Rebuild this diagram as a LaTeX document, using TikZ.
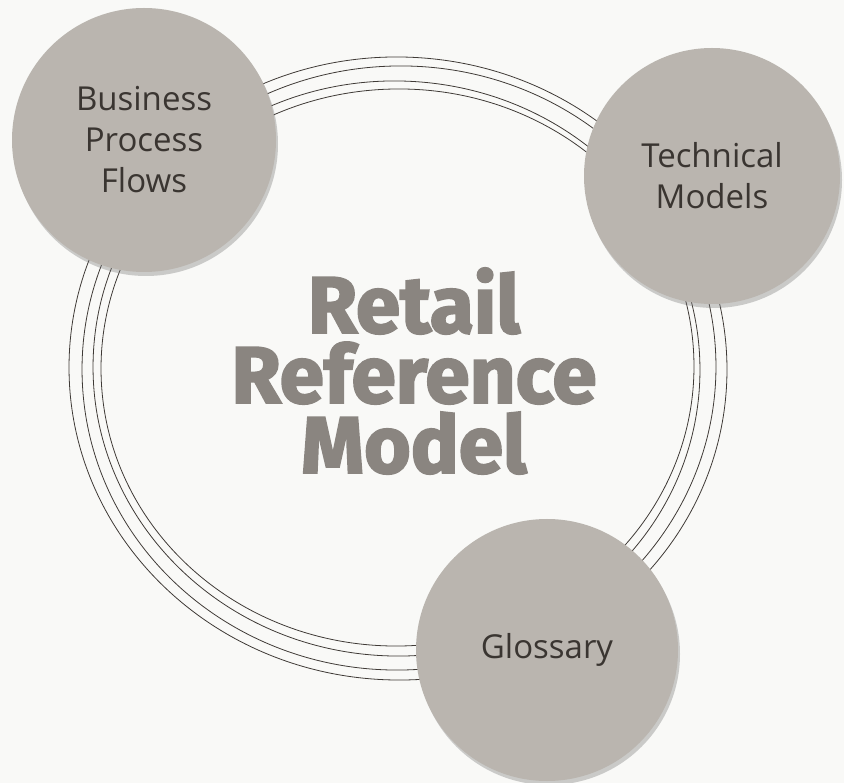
\documentclass[tikz,border=0pt]{standalone}
\usepackage{fontspec}
\setmainfont{Open Sans}
\newfontfamily\titlefont{Fira Sans}[BoldFeatures={FakeBold=2.5}]
\usetikzlibrary{shadows}
\definecolor{paper}{HTML}{F9F9F7}
\definecolor{disc}{HTML}{BAB5AF}
\definecolor{ink}{HTML}{3A3531}
\definecolor{wire}{HTML}{3F3A36}
\definecolor{headline}{HTML}{8A8580}

\begin{document}
\begin{tikzpicture}[x=1pt,y=-1pt,
  ring/.style={draw=wire,line width=.8pt},
  topic/.style={circle,fill=disc,minimum size=#1,inner sep=0pt,align=center,text=ink,
    font=\fontsize{33}{41}\selectfont,
    drop shadow={shadow xshift=2pt,shadow yshift=-4pt,opacity=.35,fill=black!55}}]
\fill[paper] (0,0) rectangle (844,783);
\useasboundingbox (0,0) rectangle (844,783);
% the ring of thin loops
\foreach \cx/\cy/\rx/\ry/\a in {398/368.5/329/311.5/-2,399/368/317/302/3,396.5/368.5/303.5/287.5/-3,397.5/367.5/296.5/278.5/2}
  \draw[ring,rotate around={\a:(\cx,\cy)}] (\cx,\cy) ellipse [x radius=\rx,y radius=\ry];
% the three topics
\node[topic=264pt] (bpf) at (144,140) {Business\\Process\\Flows};
\node[topic=256pt] (tech) at (712,176) {Technical\\Models};
\node[topic=262pt] (gloss) at (547,650) {Glossary};
\node[text=headline,align=center,font=\titlefont\bfseries\fontsize{80}{70}\selectfont] (title) at (414,371) {Retail\\Reference\\Model};
\end{tikzpicture}
\end{document}
